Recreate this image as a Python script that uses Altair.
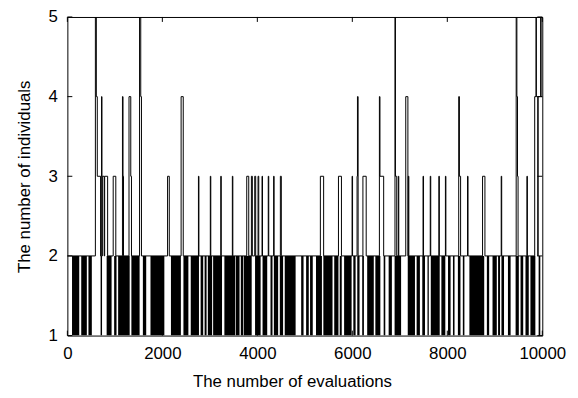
import altair as alt
import pandas as pd

# ---- data ----
# step series (value changes, "step-after"): evaluations -> number of individuals
step_x = [0,
          590, 610, 630, 700, 710, 720, 728, 736, 775, 785, 848,
          965, 1020,
          1160, 1172, 1182,
          1298, 1335, 1350,
          1520, 1545, 1560,
          2110, 2146,
          2395, 2440,
          2760, 2770, 3010, 3020, 3230, 3240, 3474, 3484,
          3777, 3819, 3875, 3895, 3945, 3965, 4015, 4030, 4099, 4109, 4230, 4240,
          4343, 4353, 4485, 4505, 5327, 5396, 5708, 5771, 5995, 6005,
          6100, 6108, 6122, 6223, 6292, 6570, 6582, 6660, 6898, 6908, 6935,
          6968, 6978, 7125, 7170, 7178, 7190, 7489, 7499, 7641, 7651, 7822, 7832,
          7960, 7970, 8240, 8255, 8280, 8426, 8436, 8742, 8792, 9135, 9145,
          9450, 9465, 9478, 9490, 9676, 9686,
          9840, 9868, 9875, 9905, 9912, 9965, 9975, 10000]
step_y = [2,
          5, 4, 3, 2, 3, 4, 2, 3, 2, 3, 2,
          3, 2,
          4, 3, 2,
          4, 3, 2,
          5, 4, 2,
          3, 2,
          4, 2,
          3, 2, 3, 2, 3, 2, 3, 2,
          3, 2, 3, 2, 3, 2, 3, 2, 3, 2, 3, 2,
          3, 2, 3, 2, 3, 2, 3, 2, 3, 2,
          3, 4, 2, 3, 2, 4, 3, 2, 5, 3, 2,
          3, 2, 4, 2, 3, 2, 3, 2, 3, 2, 3, 2,
          3, 2, 4, 3, 2, 3, 2, 3, 2, 3, 2,
          5, 4, 3, 2, 3, 2,
          4, 5, 4, 2, 4, 5, 4, 4]

# ranges where the count flips between 1 and 2 at almost every evaluation (solid black band)
band_start = [98, 292, 444, 700, 827, 985, 1069, 1348, 1590, 1750, 2181, 2444, 2598, 2806, 2890,
              2958, 3069, 3306, 3548, 3652, 3715, 3952, 4110, 4277, 4348, 4473, 4577, 4923, 5027, 5110,
              5235, 5390, 5619, 5735, 5827, 6021, 6104, 6208, 6313, 6485, 6660, 6765, 6890, 7167, 7354,
              7473, 7583, 7652, 7875, 8015, 8119, 8223, 8327, 8465, 8833, 8952, 9069, 9140, 9277, 9438,
              9542, 9646, 9750, 9923]
band_end = [250, 410, 515, 730, 931, 1035, 1312, 1521, 1660, 2042, 2390, 2548, 2771, 2860, 2931,
            3048, 3256, 3535, 3625, 3702, 3881, 4069, 4208, 4319, 4438, 4542, 4806, 4973, 5083, 5167,
            5360, 5583, 5708, 5777, 5985, 6069, 6152, 6244, 6452, 6590, 6694, 6833, 7027, 7319, 7423,
            7530, 7610, 7840, 7958, 8069, 8152, 8277, 8360, 8777, 8881, 9042, 9110, 9194, 9333, 9506,
            9598, 9715, 9854, 9958]
band_low = 1
band_high = 2

x_ticks = [0, 2000, 4000, 6000, 8000, 10000]
y_ticks = [1, 2, 3, 4, 5]

# ---- chart ----
W, H = 480, 322
FONT = "Liberation Sans"
xs = alt.Scale(domain=[0, 10000], nice=False, zero=False)
ys = alt.Scale(domain=[1, 5], nice=False, zero=False)

X_AXIS = alt.Axis(title="The number of evaluations", values=x_ticks, format="d",
                  ticks=False, domain=False, grid=False,
                  labelFont=FONT, labelFontSize=17, labelColor="black", labelPadding=10,
                  labelFlush=False, labelOverlap=False,
                  titleFont=FONT, titleFontSize=17, titleFontWeight="normal", titleColor="black",
                  titleX=227, titleY=51, titleBaseline="alphabetic")
Y_AXIS = alt.Axis(title="The number of individuals", values=y_ticks, format="d",
                  ticks=False, domain=False, grid=False,
                  labelFont=FONT, labelFontSize=17, labelColor="black", labelPadding=10,
                  labelFlush=False, labelOverlap=False,
                  titleFont=FONT, titleFontSize=17, titleFontWeight="normal", titleColor="black",
                  titleX=-38, titleY=H / 2, titleAngle=270, titleBaseline="alphabetic")

step_df = pd.DataFrame({"x": step_x, "y": step_y})
band_df = pd.DataFrame({"start": band_start, "end": band_end,
                        "lo": [band_low] * len(band_start), "hi": [band_high] * len(band_start)})
xt_df = pd.DataFrame({"t": x_ticks})
yt_df = pd.DataFrame({"t": y_ticks})

band = alt.Chart(band_df).mark_rect(color="black", strokeWidth=0, clip=True).encode(
    x=alt.X("start:Q", scale=xs, axis=X_AXIS), x2="end:Q",
    y=alt.Y("lo:Q", scale=ys, axis=Y_AXIS), y2="hi:Q")

line = alt.Chart(step_df).mark_line(interpolate="step-after", color="black",
                                     strokeWidth=1, clip=True).encode(
    x=alt.X("x:Q", scale=xs, axis=X_AXIS),
    y=alt.Y("y:Q", scale=ys, axis=Y_AXIS), order="x:Q")

tick_len = 5
xt_top = alt.Chart(xt_df).mark_rule(color="black", strokeWidth=1).encode(
    x=alt.X("t:Q", scale=xs, axis=X_AXIS), y=alt.value(0), y2=alt.value(tick_len))
xt_bot = alt.Chart(xt_df).mark_rule(color="black", strokeWidth=1).encode(
    x=alt.X("t:Q", scale=xs, axis=X_AXIS), y=alt.value(H - tick_len), y2=alt.value(H))
yt_left = alt.Chart(yt_df).mark_rule(color="black", strokeWidth=1).encode(
    y=alt.Y("t:Q", scale=ys, axis=Y_AXIS), x=alt.value(0), x2=alt.value(tick_len))
yt_right = alt.Chart(yt_df).mark_rule(color="black", strokeWidth=1).encode(
    y=alt.Y("t:Q", scale=ys, axis=Y_AXIS), x=alt.value(W - tick_len), x2=alt.value(W))

chart = alt.layer(band, line, xt_top, xt_bot, yt_left, yt_right).properties(
    width=W, height=H,
    autosize=alt.AutoSizeParams(type="none"),
    padding={"left": 60, "top": 7, "right": 28, "bottom": 60},
    background="white",
).configure_view(stroke="black", strokeWidth=1)

chart.save("out.html", embed_options={"renderer": "svg", "actions": False})
